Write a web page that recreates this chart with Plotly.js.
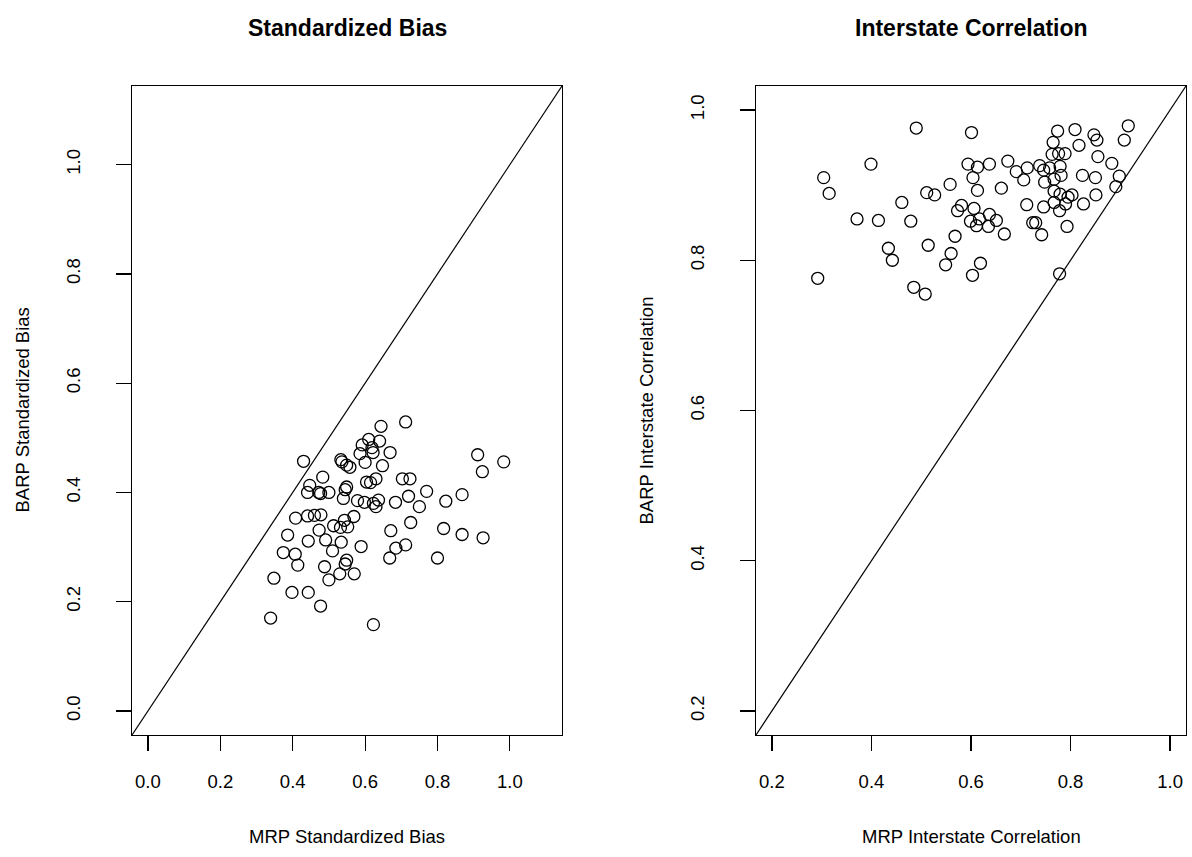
<!DOCTYPE html>
<html>
<head>
<meta charset="utf-8">
<script src="https://cdn.plot.ly/plotly-3.0.1.min.js"></script>
<style>
  html, body { margin: 0; padding: 0; background: #ffffff; }
  #chart { width: 1192px; height: 857px; }
</style>
</head>
<body>
<div id="chart"></div>
<script>
// Standardized bias per state: MRP (x) against BARP (y)
const biasMRP = [
  0.430, 0.644, 0.712, 0.610, 0.592, 0.640, 0.619, 0.586, 0.622, 0.669,
  0.533, 0.536, 0.549, 0.558, 0.600, 0.648, 0.483, 0.447, 0.549, 0.604,
  0.615, 0.630, 0.703, 0.724, 0.441, 0.472, 0.477, 0.500, 0.545, 0.540,
  0.579, 0.598, 0.623, 0.630, 0.637, 0.684, 0.720, 0.750, 0.770, 0.823,
  0.868, 0.911, 0.924, 0.983, 0.408, 0.441, 0.460, 0.478, 0.543, 0.569,
  0.513, 0.532, 0.552, 0.473, 0.671, 0.726, 0.817, 0.868, 0.926, 0.386,
  0.443, 0.491, 0.534, 0.589, 0.510, 0.685, 0.712, 0.374, 0.407, 0.414,
  0.488, 0.549, 0.545, 0.668, 0.800, 0.530, 0.570, 0.500, 0.348, 0.398,
  0.443, 0.477, 0.339, 0.623
];
const biasBARP = [
  0.457, 0.521, 0.529, 0.497, 0.487, 0.494, 0.482, 0.471, 0.473, 0.473,
  0.460, 0.456, 0.450, 0.446, 0.455, 0.449, 0.428, 0.413, 0.410, 0.419,
  0.418, 0.425, 0.425, 0.425, 0.400, 0.400, 0.398, 0.400, 0.405, 0.389,
  0.385, 0.382, 0.380, 0.374, 0.386, 0.382, 0.393, 0.374, 0.402, 0.384,
  0.396, 0.469, 0.438, 0.456, 0.353, 0.357, 0.358, 0.359, 0.349, 0.356,
  0.339, 0.336, 0.337, 0.331, 0.330, 0.345, 0.334, 0.323, 0.317, 0.322,
  0.311, 0.313, 0.309, 0.301, 0.293, 0.298, 0.304, 0.290, 0.287, 0.267,
  0.264, 0.276, 0.269, 0.280, 0.280, 0.251, 0.251, 0.240, 0.243, 0.217,
  0.217, 0.192, 0.170, 0.158
];

// Interstate correlation: MRP (x) against BARP (y)
const corrMRP = [
  0.292, 0.304, 0.315, 0.371, 0.399, 0.414, 0.434, 0.442, 0.461, 0.479,
  0.490, 0.485, 0.508, 0.511, 0.514, 0.527, 0.549, 0.558, 0.560, 0.568,
  0.573, 0.581, 0.594, 0.601, 0.604, 0.613, 0.606, 0.599, 0.611, 0.617,
  0.613, 0.603, 0.619, 0.637, 0.637, 0.635, 0.651, 0.661, 0.667, 0.674,
  0.691, 0.706, 0.713, 0.712, 0.724, 0.730, 0.738, 0.742, 0.746, 0.748,
  0.746, 0.758, 0.763, 0.765, 0.767, 0.767, 0.767, 0.774, 0.776, 0.779,
  0.781, 0.778, 0.779, 0.778, 0.789, 0.790, 0.793, 0.795, 0.803, 0.809,
  0.817, 0.824, 0.826, 0.847, 0.853, 0.855, 0.850, 0.851, 0.883, 0.891,
  0.898, 0.908, 0.916
];
const corrBARP = [
  0.776, 0.910, 0.889, 0.855, 0.928, 0.853, 0.816, 0.800, 0.877, 0.852,
  0.976, 0.764, 0.755, 0.890, 0.820, 0.887, 0.794, 0.901, 0.809, 0.832,
  0.866, 0.873, 0.928, 0.970, 0.910, 0.924, 0.869, 0.852, 0.846, 0.855,
  0.893, 0.780, 0.796, 0.928, 0.861, 0.845, 0.853, 0.896, 0.835, 0.932,
  0.918, 0.907, 0.923, 0.874, 0.850, 0.850, 0.926, 0.834, 0.920, 0.904,
  0.871, 0.923, 0.941, 0.957, 0.908, 0.892, 0.877, 0.972, 0.942, 0.925,
  0.913, 0.866, 0.888, 0.782, 0.942, 0.875, 0.845, 0.884, 0.887, 0.974,
  0.953, 0.913, 0.875, 0.967, 0.960, 0.938, 0.910, 0.887, 0.929, 0.898,
  0.912, 0.960, 0.979
];

// Axis limits (same on both axes of a panel) and tick positions
const biasLimits = [0, 1.1];
const corrLimits = [0.2, 1.0];
const biasTicks = [0, 0.2, 0.4, 0.6, 0.8, 1.0];
const corrTicks = [0.2, 0.4, 0.6, 0.8, 1.0];

// base-graphics style range: limits widened by 4% on each side
function padded(lim) {
  const d = (lim[1] - lim[0]) * 0.04;
  return [lim[0] - d, lim[1] + d];
}

const W = 1192, H = 857;
const FONT = 'Liberation Sans, Arial, Helvetica, sans-serif';
const INK = '#000000';
const TEXT_SIZE = 18.5;
const MAIN_SIZE = 23;

// panel boxes in pixels
const leftBox  = { x0: 132, x1: 562, y0: 86, y1: 735 };
const rightBox = { x0: 756, x1: 1186, y0: 86, y1: 735 };

function xDomain(b) { return [b.x0 / W, b.x1 / W]; }
function yDomain(b) { return [(H - b.y1) / H, (H - b.y0) / H]; }

function axisStyle(range, ticks, domain, anchor, isY) {
  return {
    domain: domain,
    anchor: anchor,
    range: range,
    autorange: false,
    tickmode: 'array',
    tickvals: ticks,
    ticktext: ticks.map(v => v.toFixed(1)),
    ticks: 'outside',
    ticklen: 15,
    tickwidth: 1.2,
    tickcolor: INK,
    tickangle: isY ? -90 : 0,
    ticklabelstandoff: isY ? 28 : 15,
    tickfont: { family: FONT, size: TEXT_SIZE, color: INK },
    showline: true,
    mirror: true,
    linecolor: INK,
    linewidth: 1.2,
    showgrid: false,
    zeroline: false,
    fixedrange: true
  };
}

const biasRange = padded(biasLimits);
const corrRange = padded(corrLimits);

const pointStyle = {
  symbol: 'circle-open',
  size: 12,
  color: INK,
  line: { color: INK, width: 1.3 }
};

const traces = [
  {
    x: biasRange, y: biasRange, xaxis: 'x', yaxis: 'y',
    mode: 'lines', line: { color: INK, width: 1.2 },
    hoverinfo: 'skip', showlegend: false
  },
  {
    x: biasMRP, y: biasBARP, xaxis: 'x', yaxis: 'y',
    mode: 'markers', marker: pointStyle, showlegend: false
  },
  {
    x: corrRange, y: corrRange, xaxis: 'x2', yaxis: 'y2',
    mode: 'lines', line: { color: INK, width: 1.2 },
    hoverinfo: 'skip', showlegend: false
  },
  {
    x: corrMRP, y: corrBARP, xaxis: 'x2', yaxis: 'y2',
    mode: 'markers', marker: pointStyle, showlegend: false
  }
];

function centerX(b) { return ((b.x0 + b.x1) / 2) / W; }

function label(text, x, yPx, opts) {
  return Object.assign({
    text: text, xref: 'paper', yref: 'paper',
    x: x, y: (H - yPx) / H,
    xanchor: 'center', yanchor: 'middle',
    showarrow: false,
    font: { family: FONT, size: TEXT_SIZE, color: INK }
  }, opts || {});
}

const mainFont = { family: FONT, size: MAIN_SIZE, color: INK };

const annotations = [
  label('<b>Standardized Bias</b>', centerX(leftBox), 28, { font: mainFont }),
  label('<b>Interstate Correlation</b>', centerX(rightBox), 28, { font: mainFont }),
  label('MRP Standardized Bias', centerX(leftBox), 836),
  label('MRP Interstate Correlation', centerX(rightBox), 836),
  label('BARP Standardized Bias', (leftBox.x0 - 110) / W, (leftBox.y0 + leftBox.y1) / 2, { textangle: -90 }),
  label('BARP Interstate Correlation', (rightBox.x0 - 110) / W, (rightBox.y0 + rightBox.y1) / 2, { textangle: -90 })
];

const layout = {
  width: W, height: H,
  autosize: false,
  margin: { l: 0, r: 0, t: 0, b: 0, pad: 0 },
  paper_bgcolor: '#ffffff',
  plot_bgcolor: '#ffffff',
  showlegend: false,
  xaxis:  axisStyle(biasRange, biasTicks, xDomain(leftBox), 'y', false),
  yaxis:  axisStyle(biasRange, biasTicks, yDomain(leftBox), 'x', true),
  xaxis2: axisStyle(corrRange, corrTicks, xDomain(rightBox), 'y2', false),
  yaxis2: axisStyle(corrRange, corrTicks, yDomain(rightBox), 'x2', true),
  annotations: annotations
};

Plotly.newPlot('chart', traces, layout, { displayModeBar: false, staticPlot: true });
</script>
</body>
</html>
